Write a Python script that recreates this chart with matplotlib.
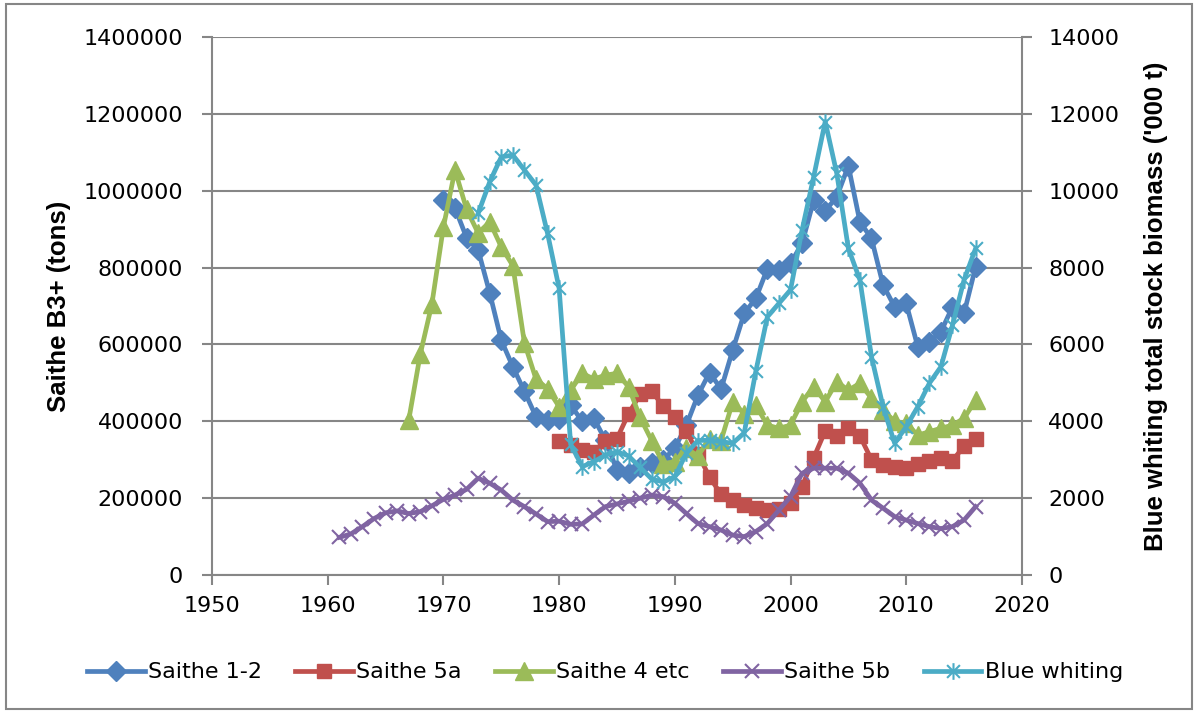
import matplotlib.pyplot as plt
from matplotlib.path import Path
from matplotlib.patches import Rectangle

# Saithe B3+ (tons), left axis
years_12 = list(range(1970, 2017))
saithe_12 = [975000, 955000, 878000, 846000, 734000, 611000, 542000, 478000, 412000, 403000,
             405000, 442000, 400000, 408000, 351000, 273000, 265000, 282000, 291000, 300000,
             330000, 390000, 468000, 527000, 484000, 585000, 681000, 720000, 797000, 795000,
             811000, 863000, 975000, 948000, 984000, 1065000, 919000, 876000, 755000, 698000,
             707000, 594000, 607000, 633000, 698000, 681000, 802000]

years_5a = list(range(1980, 2017))
saithe_5a = [350000, 338000, 325000, 320000, 350000, 355000, 420000, 470000, 478000, 440000,
             410000, 375000, 315000, 255000, 210000, 195000, 182000, 175000, 168000, 172000,
             188000, 230000, 305000, 375000, 362000, 382000, 362000, 300000, 287000, 282000,
             278000, 288000, 298000, 305000, 298000, 335000, 355000]

years_4 = list(range(1967, 2017))
saithe_4 = [403000, 575000, 705000, 906000, 1054000, 952000, 890000, 919000, 854000, 805000,
            604000, 510000, 485000, 438000, 481000, 525000, 510000, 520000, 525000, 490000,
            410000, 350000, 290000, 295000, 330000, 310000, 355000, 350000, 450000, 420000,
            442000, 390000, 382000, 390000, 451000, 490000, 451000, 503000, 481000, 499000,
            460000, 429000, 400000, 395000, 364000, 373000, 382000, 390000, 408000, 455000]

years_5b = list(range(1961, 2017))
saithe_5b = [98000, 107000, 126000, 147000, 162000, 167000, 160000, 165000, 180000, 197000,
             208000, 223000, 252000, 239000, 221000, 195000, 178000, 159000, 139000, 140000,
             132000, 133000, 156000, 178000, 185000, 192000, 200000, 208000, 204000, 187000,
             160000, 134000, 126000, 117000, 104000, 100000, 113000, 134000, 169000, 204000,
             265000, 278000, 278000, 278000, 265000, 239000, 195000, 174000, 152000, 143000,
             134000, 126000, 121000, 126000, 143000, 178000]

# Blue whiting total stock biomass ('000 t), right axis
years_bw = list(range(1973, 2017))
blue_whiting = [9410, 10230, 10880, 10930, 10540, 10150, 8890, 7460, 3400, 2820,
                2950, 3120, 3210, 3100, 2800, 2500, 2420, 2560, 3170, 3500,
                3510, 3470, 3430, 3700, 5300, 6720, 7070, 7420, 8980, 10360,
                11800, 10450, 8500, 7680, 5680, 4380, 3430, 3860, 4380, 4990,
                5420, 6500, 7680, 8500]

grey = '#868686'
tick_font = 16

# excel style asterisk: X plus a vertical bar
star = Path([(-1, -1), (1, 1), (-1, 1), (1, -1), (0, -1.3), (0, 1.3)],
            [Path.MOVETO, Path.LINETO, Path.MOVETO, Path.LINETO, Path.MOVETO, Path.LINETO])

fig = plt.figure(figsize=(11.98, 7.13), dpi=100)
ax = fig.add_axes([0.177, 0.1935, 0.676, 0.7545])
ax2 = ax.twinx()

ax.plot(years_12, saithe_12, color='#4F81BD', lw=3.4, marker='D', ms=10, label='Saithe 1-2')
ax.plot(years_5a, saithe_5a, color='#C0504D', lw=3.4, marker='s', ms=10, label='Saithe 5a')
ax.plot(years_4, saithe_4, color='#9BBB59', lw=3.4, marker='^', ms=13, label='Saithe 4 etc')
ax.plot(years_5b, saithe_5b, color='#8064A2', lw=3.4, marker='x', ms=10, mew=1.5, label='Saithe 5b')
ax2.plot(years_bw, blue_whiting, color='#4BACC6', lw=3.4, marker=star, ms=12, mew=1.5,
         label='Blue whiting')

ax.set_xlim(1950, 2020)
ax.set_ylim(0, 1400000)
ax2.set_ylim(0, 14000)
ax.set_xticks(range(1950, 2021, 10))
ax.set_yticks(range(0, 1400001, 200000))
ax2.set_yticks(range(0, 14001, 2000))
ax.ticklabel_format(axis='y', style='plain', useOffset=False)

ax.grid(axis='y', color=grey, lw=1.5)
ax.set_axisbelow(True)
for a in (ax, ax2):
    for s in a.spines.values():
        s.set_visible(False)
    a.tick_params(colors=grey, labelcolor='black', labelsize=tick_font, length=7, width=1.5)
ax.spines['left'].set_visible(True)
ax.spines['bottom'].set_visible(True)
ax2.spines['right'].set_visible(True)
for s in (ax.spines['left'], ax.spines['bottom'], ax2.spines['right']):
    s.set_color(grey)
    s.set_linewidth(1.5)
ax.tick_params(axis='y', pad=14)
ax.tick_params(axis='x', pad=8)
ax2.tick_params(axis='y', pad=12)

label_font = dict(family=['Liberation Sans', 'DejaVu Sans'], fontsize=18.5, fontweight='bold')
ax.set_ylabel('Saithe B3+ (tons)', labelpad=9, **label_font)
ax2.set_ylabel("Blue whiting total stock biomass ('000 t)", labelpad=18, **label_font)

h1, l1 = ax.get_legend_handles_labels()
h2, l2 = ax2.get_legend_handles_labels()
fig.legend(h1 + h2, l1 + l2, loc='center', bbox_to_anchor=(0.505, 0.057), ncol=5,
           frameon=False, fontsize=tick_font, handlelength=2.6, handletextpad=0.15,
           columnspacing=1.5)

fig.patches.append(Rectangle((0.005, 0.005), 0.99, 0.99, transform=fig.transFigure,
                             fill=False, edgecolor=grey, lw=1.5))

fig.savefig('out.png', dpi=100)
